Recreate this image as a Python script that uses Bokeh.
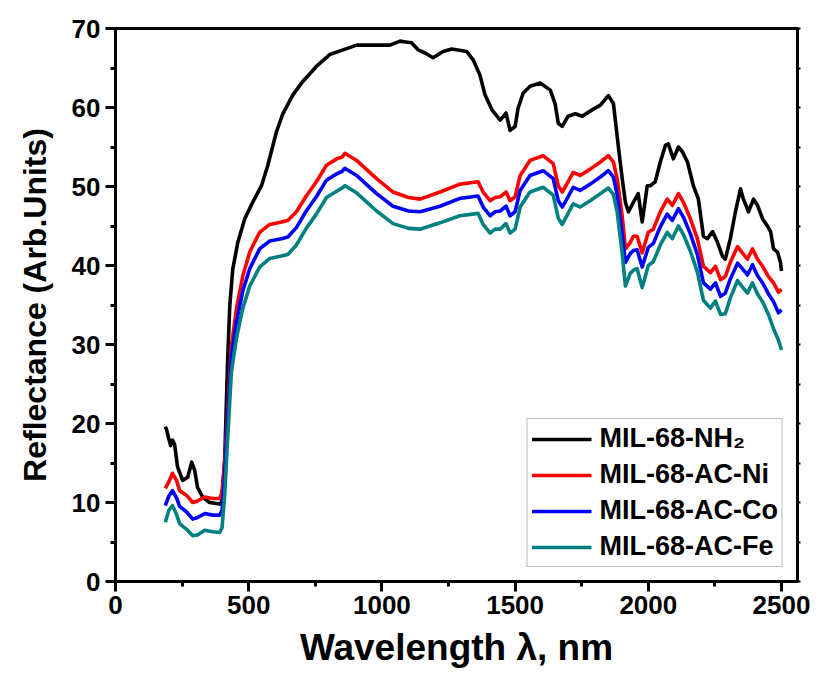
from bokeh.plotting import figure
from bokeh.models import SingleIntervalTicker, LinearAxis, Range1d, Legend
from bokeh.embed import file_html
from bokeh.resources import INLINE

# ---- data ----
nh2_nm = [187, 192, 199, 207, 214, 222, 233, 252, 271, 286, 297, 308, 327, 353, 391, 398,
          410, 421, 429, 440, 459, 485, 515, 548, 571, 604, 628, 666, 703, 754, 804, 854,
          905, 1004, 1030, 1068, 1090, 1111, 1136, 1162, 1192, 1230, 1262, 1318, 1343,
          1368, 1387, 1413, 1444, 1466, 1481, 1500, 1511, 1530, 1556, 1594, 1632, 1650,
          1662, 1677, 1699, 1726, 1752, 1789, 1820, 1850, 1869, 1887, 1902, 1914, 1925,
          1944, 1962, 1977, 1996, 2008, 2026, 2045, 2064, 2075, 2094, 2113, 2128, 2147,
          2169, 2188, 2207, 2222, 2241, 2259, 2278, 2289, 2308, 2327, 2346, 2357, 2376,
          2395, 2410, 2429, 2447, 2459, 2470, 2485, 2496, 2500]
nh2_r = [19.6, 19.2, 18.2, 17.2, 17.9, 17.3, 14.5, 12.8, 13.2, 15.1, 14.1, 11.9, 10.7, 10.0, 9.8, 10.0,
         15.5, 28.1, 34.9, 39.5, 42.9, 45.9, 48.0, 50.1, 52.6, 56.9, 59.2, 61.6, 63.3, 65.2, 66.7, 67.3,
         67.9, 67.9, 67.9, 68.4, 68.3, 68.2, 67.3, 66.9, 66.3, 67.1, 67.4, 67.1, 66.0,
         64.1, 61.6, 59.7, 58.4, 59.3, 57.1, 57.6, 59.9, 61.8, 62.7, 63.1, 62.2, 60.5,
         58.0, 57.6, 58.9, 59.2, 58.9, 59.7, 60.3, 61.5, 60.5, 55.2, 51.0, 48.0, 46.8,
         48.0, 49.1, 45.5, 50.1, 50.1, 50.6, 53.1, 55.2, 55.4, 53.5, 55.0, 54.4, 53.1,
         50.1, 48.4, 43.7, 43.4, 44.3, 43.0, 41.2, 40.8, 43.4, 46.8, 49.7, 48.4, 46.8,
         48.4, 47.6, 45.9, 45.0, 44.3, 42.1, 41.7, 40.4, 39.3]

ac_nm = [187, 200, 214, 229, 241, 267, 290, 308, 335, 365, 391, 400, 410, 420, 435, 454, 478,
         504, 541, 579, 623, 647, 679, 716, 754, 792, 830, 850, 861, 905, 980, 1042, 1100,
         1143, 1218, 1293, 1340, 1361, 1380, 1406, 1425, 1444, 1466, 1481, 1500, 1519, 1556,
         1605, 1643, 1662, 1677, 1699, 1718, 1744, 1782, 1820, 1850, 1869, 1883, 1902, 1914,
         1932, 1944, 1958, 1977, 2000, 2019, 2045, 2071, 2090, 2113, 2132, 2158, 2184, 2207,
         2233, 2252, 2271, 2289, 2308, 2335, 2353, 2372, 2391, 2410, 2429, 2451, 2470, 2489, 2500]
ni_r = [11.8, 12.6, 13.7, 12.8, 11.5, 10.9, 10.0, 10.2, 10.7, 10.5, 10.5, 11.3, 15.0, 21.0, 29.8, 34.5, 38.7,
        41.7, 44.2, 45.2, 45.5, 45.7, 46.8, 48.8, 50.6, 52.7, 53.5, 53.7, 54.2, 53.3, 51.0, 49.3, 48.6,
        48.4, 49.3, 50.3, 50.5, 50.6, 49.3, 48.2, 48.6, 48.7, 49.3, 48.2, 48.7, 51.4, 53.3,
        53.9, 52.9, 50.1, 49.3, 50.6, 51.8, 51.4, 52.2, 53.1, 53.9, 53.1, 51.0, 46.3, 42.1,
        42.9, 43.7, 43.7, 41.6, 44.2, 44.6, 46.8, 48.4, 47.6, 49.1, 48.0, 45.9, 43.4, 39.9,
        39.1, 39.9, 38.2, 38.6, 40.4, 42.4, 41.6, 40.8, 42.1, 40.8, 39.9, 38.6, 37.8, 36.6, 37.0]
co_r = [9.6, 10.8, 11.5, 10.6, 9.5, 8.8, 7.9, 8.1, 8.6, 8.4, 8.4, 9.0, 13.5, 20.0, 28.5, 32.8, 36.8,
        39.6, 42.1, 43.1, 43.4, 43.6, 44.8, 46.9, 48.7, 50.8, 51.6, 51.9, 52.3, 51.4, 49.1, 47.5, 46.9,
        46.8, 47.5, 48.5, 48.7, 48.8, 47.4, 46.3, 46.8, 46.9, 47.5, 46.3, 46.8, 49.5, 51.4,
        52.0, 51.0, 48.2, 47.4, 48.7, 49.9, 49.5, 50.3, 51.2, 52.0, 51.2, 49.0, 44.0, 40.4,
        41.5, 41.9, 42.0, 39.8, 42.3, 42.8, 44.9, 46.5, 45.7, 47.2, 46.1, 44.0, 41.4, 37.8,
        37.0, 37.8, 36.1, 36.5, 38.3, 40.3, 39.6, 38.8, 40.1, 38.7, 37.8, 36.4, 35.4, 34.0, 34.4]
fe_r = [7.5, 9.0, 9.6, 8.5, 7.3, 6.6, 5.8, 5.9, 6.5, 6.3, 6.2, 6.8, 11.0, 17.5, 26.5, 30.8, 34.6,
        37.4, 39.8, 40.9, 41.2, 41.4, 42.6, 44.7, 46.5, 48.6, 49.4, 49.8, 50.1, 49.2, 46.9, 45.3, 44.7,
        44.6, 45.4, 46.3, 46.5, 46.6, 45.2, 44.1, 44.6, 44.6, 45.3, 44.1, 44.6, 47.4, 49.3,
        49.9, 48.9, 46.0, 45.2, 46.6, 47.8, 47.4, 48.2, 49.1, 49.8, 49.0, 46.8, 41.5, 37.4,
        39.0, 39.4, 39.6, 37.2, 40.0, 40.5, 42.6, 44.2, 43.4, 45.0, 43.9, 41.8, 39.2, 35.6,
        34.6, 35.5, 33.8, 33.9, 35.9, 38.1, 37.3, 36.5, 37.8, 36.4, 35.4, 33.8, 32.0, 30.5, 29.3]

labels = ["MIL-68-NH\u2082", "MIL-68-AC-Ni", "MIL-68-AC-Co", "MIL-68-AC-Fe"]
colors = ["#000000", "#FF0000", "#0000FF", "#008080"]

FONT = "Liberation Sans"

p = figure(width=821, height=680, output_backend="svg", toolbar_location=None,
           x_range=Range1d(0, 2560), y_range=Range1d(0, 70),
           min_border_left=115, min_border_right=24, min_border_top=28, min_border_bottom=99,
           x_axis_label="Wavelength \u03bb, nm", y_axis_label="Reflectance (Arb.Units)")

series = [(nh2_nm, nh2_r), (ac_nm, ni_r), (ac_nm, co_r), (ac_nm, fe_r)]
renderers = []
for (xs, ys), lab, col in zip(series, labels, colors):
    r = p.line(xs, ys, line_color=col, line_width=3.6, line_join="round")
    renderers.append((lab, [r]))

p.xgrid.visible = False
p.ygrid.visible = False
p.outline_line_color = "black"
p.outline_line_width = 3
p.outline_line_alpha = 1.0
p.background_fill_color = "white"
p.border_fill_color = "white"

p.xaxis.ticker = SingleIntervalTicker(interval=500, num_minor_ticks=2)
p.yaxis.ticker = SingleIntervalTicker(interval=10, num_minor_ticks=2)
for ax in (p.xaxis[0], p.yaxis[0]):
    ax.axis_line_width = 3
    ax.major_tick_line_width = 3
    ax.minor_tick_line_width = 3
    ax.major_tick_out = 10
    ax.major_tick_in = 0
    ax.minor_tick_out = 5
    ax.minor_tick_in = 0
    ax.major_label_text_font = FONT
    ax.major_label_text_font_style = "bold"
    ax.major_label_text_font_size = "26px"
    ax.major_label_text_color = "black"
    ax.axis_label_text_font = FONT
    ax.axis_label_text_font_style = "bold"
    ax.axis_label_text_color = "black"
p.xaxis.major_label_standoff = 4
p.yaxis.major_label_standoff = 5
p.xaxis.axis_label_text_font_size = "37px"
p.yaxis.axis_label_text_font_size = "32px"
p.xaxis.axis_label_standoff = 10
p.yaxis.axis_label_standoff = 16

right = LinearAxis(ticker=SingleIntervalTicker(interval=5, num_minor_ticks=0),
                   major_label_text_font_size="0px", axis_line_width=3,
                   major_tick_out=3, major_tick_in=0, major_tick_line_width=2,
                   minor_tick_line_color=None)
right.major_label_text_alpha = 0
p.add_layout(right, "right")

legend = Legend(items=renderers, location="bottom_right")
legend.label_text_font = FONT
legend.label_text_font_style = "bold"
legend.label_text_font_size = "27px"
legend.label_text_color = "black"
legend.glyph_width = 60
legend.glyph_height = 30
legend.label_height = 30
legend.label_standoff = 8
legend.spacing = 5
legend.padding = 4
legend.margin = 14
legend.border_line_color = "#777777"
legend.border_line_width = 1.5
legend.background_fill_alpha = 1.0
p.add_layout(legend)

open("out.html", "w").write(file_html(p, INLINE))
